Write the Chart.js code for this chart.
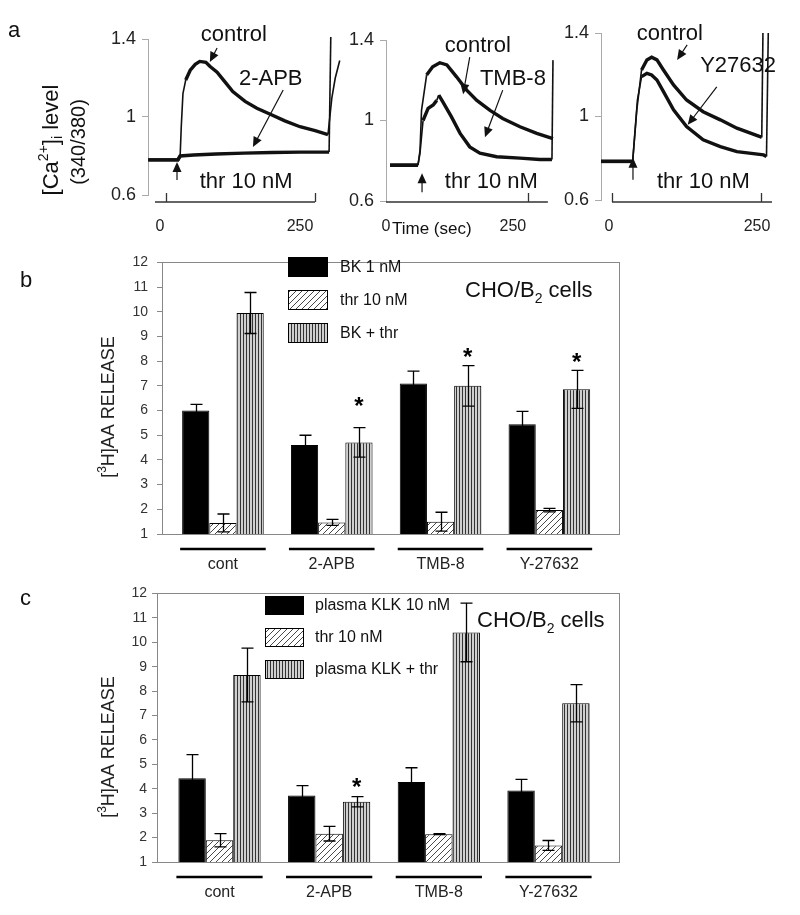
<!DOCTYPE html>
<html>
<head>
<meta charset="utf-8">
<script src="https://cdn.jsdelivr.net/npm/chart.js@4.4.1/dist/chart.umd.min.js"></script>
<style>
  html, body { margin: 0; padding: 0; background: #fff; }
  #fig { position: relative; width: 800px; height: 915px; background: #fff; overflow: hidden; }
  #fig canvas { position: absolute; }
</style>
</head>
<body>
<div id="fig">
  <canvas id="a1" width="350" height="245" style="left:0;top:0"></canvas>
  <canvas id="a2" width="260" height="245" style="left:300px;top:0"></canvas>
  <canvas id="a3" width="260" height="245" style="left:540px;top:0"></canvas>
  <canvas id="b" width="640" height="335" style="left:0;top:245px"></canvas>
  <canvas id="c" width="640" height="335" style="left:0;top:580px"></canvas>
</div>
<script>
const FONT = '"Liberation Sans", Arial, sans-serif';
Chart.defaults.font.family = FONT;
Chart.defaults.color = '#222';

// ---- panel a : [Ca2+]i traces, time (sec) vs 340/380 ratio ----
const caTicks = [0.6, 1, 1.4];
const timeTicks = [0, 250];

// thr 10 nM, control vs 2-APB
const ctrl1Time  = [-21, 32, 36, 38, 41, 46, 54, 63, 71, 82, 89, 102, 116, 130, 152, 173, 196, 223, 250, 277, 300, 307, 313, 321];
const ctrl1Ratio = [0.78, 0.78, 0.80, 0.95, 1.12, 1.19, 1.24, 1.27, 1.285, 1.28, 1.26, 1.23, 1.18, 1.13, 1.08, 1.045, 1.015, 0.98, 0.95, 0.93, 0.91, 1.10, 1.20, 1.29];
const apbTime  = [-21, 32, 36, 60, 100, 150, 200, 250, 300, 302, 305];
const apbRatio = [0.78, 0.78, 0.80, 0.805, 0.81, 0.815, 0.818, 0.82, 0.82, 0.82, 1.41];

// control vs TMB-8
const ctrl2Time  = [8, 63, 67, 70, 80, 92, 106, 120, 139, 159, 179, 205, 230, 264, 297, 329];
const ctrl2Ratio = [0.778, 0.778, 0.85, 1.05, 1.226, 1.267, 1.287, 1.276, 1.217, 1.151, 1.10, 1.05, 1.01, 0.969, 0.936, 0.91];
const tmbTime  = [8, 63, 67, 73, 83, 93, 100, 104, 112, 129, 146, 165, 185, 218, 264, 303, 327, 329];
const tmbRatio = [0.778, 0.778, 0.838, 1.0, 1.06, 1.077, 1.10, 1.126, 1.093, 1.018, 0.936, 0.869, 0.838, 0.82, 0.813, 0.806, 0.806, 1.30];

// control vs Y27632
const ctrl3Time  = [-13.5, 40, 47, 55, 64, 72, 81, 92, 109, 131, 159, 188, 216, 255, 258, 260];
const ctrl3Ratio = [0.785, 0.785, 1.032, 1.223, 1.271, 1.284, 1.271, 1.223, 1.151, 1.079, 1.023, 0.984, 0.944, 0.904, 0.90, 1.40];
const y276Time  = [-13.5, 40, 48, 55, 64, 72, 81, 92, 109, 131, 159, 188, 216, 261, 266, 269];
const y276Ratio = [0.785, 0.785, 1.079, 1.191, 1.207, 1.199, 1.175, 1.119, 1.032, 0.952, 0.888, 0.856, 0.832, 0.816, 0.808, 1.40];

// ---- panels b, c : [3H]AA release ----
const groups = ['cont', '2-APB', 'TMB-8', 'Y-27632'];
const releaseTicks = [1, 2, 3, 4, 5, 6, 7, 8, 9, 10, 11, 12];

const legendB = ['BK 1 nM', 'thr 10 nM', 'BK + thr'];
const bkMean    = [6.0, 4.6, 7.1, 5.45];
const bkErr     = [0.25, 0.4, 0.5, 0.52];
const thrMeanB  = [1.45, 1.47, 1.5, 1.97];
const thrErrB   = [0.36, 0.12, 0.38, 0.07];
const bkThrMean = [9.95, 4.71, 7.0, 6.86];
const bkThrErr  = [0.83, 0.6, 0.82, 0.77];
const starB     = [null, 6.35, 8.35, 8.15];

const legendC = ['plasma KLK 10 nM', 'thr 10 nM', 'plasma KLK + thr'];
const klkMean    = [4.43, 3.72, 4.28, 3.93];
const klkErr     = [0.97, 0.41, 0.58, 0.45];
const thrMeanC   = [1.89, 2.16, 2.14, 1.68];
const thrErrC    = [0.27, 0.3, 0.02, 0.2];
const klkThrMean = [8.66, 3.47, 10.4, 7.5];
const klkThrErr  = [1.1, 0.21, 1.2, 0.76];
const starC      = [null, 4.26, null, null];

/**
 * Draw a row of text pieces (for super/subscripts), optionally rotated.
 * parts: [{t, s (size factor), dy (shift in em)}]
 */
function drawRich(ctx, parts, x, y, size, opts) {
  opts = opts || {};
  ctx.save();
  ctx.translate(x, y);
  if (opts.rotate) ctx.rotate(-Math.PI / 2);
  ctx.textBaseline = opts.baseline || 'middle';
  ctx.textAlign = 'left';
  ctx.fillStyle = opts.color || '#111';
  let w = 0;
  parts.forEach(p => {
    ctx.font = Math.round(size * (p.s || 1)) + 'px ' + FONT;
    p.w = ctx.measureText(p.t).width;
    w += p.w;
  });
  let cx = opts.align === 'center' ? -w / 2 : 0;
  parts.forEach(p => {
    ctx.font = Math.round(size * (p.s || 1)) + 'px ' + FONT;
    ctx.fillText(p.t, cx, (p.dy || 0) * size);
    cx += p.w;
  });
  ctx.restore();
}

function drawArrow(ctx, x1, y1, x2, y2) {
  const a = Math.atan2(y2 - y1, x2 - x1);
  const len = 10, hw = 4.5;
  ctx.beginPath();
  ctx.moveTo(x1, y1);
  ctx.lineTo(x2 - Math.cos(a) * len * 0.8, y2 - Math.sin(a) * len * 0.8);
  ctx.stroke();
  ctx.beginPath();
  ctx.moveTo(x2, y2);
  ctx.lineTo(x2 - Math.cos(a) * len - Math.sin(a) * hw, y2 - Math.sin(a) * len + Math.cos(a) * hw);
  ctx.lineTo(x2 - Math.cos(a) * len + Math.sin(a) * hw, y2 - Math.sin(a) * len - Math.cos(a) * hw);
  ctx.closePath();
  ctx.fill();
}

const pts = (t, v) => t.map((x, i) => ({ x: x, y: v[i] }));

// noisy recordings read thick on flat stretches, thin on the fast jumps
const traceWidth = seg => {
  const dx = Math.abs(seg.p1.x - seg.p0.x), dy = Math.abs(seg.p1.y - seg.p0.y);
  return dy > dx * 2.5 ? 1.6 : 3.4;
};

// annotations for a trace panel: labels, arrows, thr bracket
const traceNotes = cfg => ({
  id: 'traceNotes',
  afterDraw(chart) {
    const { ctx, scales: { x, y } } = chart;
    ctx.save();
    ctx.fillStyle = '#111';
    ctx.strokeStyle = '#111';
    ctx.lineWidth = 1.2;
    ctx.textAlign = 'left';
    ctx.textBaseline = 'alphabetic';
    cfg.notes.forEach(n => {
      ctx.font = (n.size || 22) + 'px ' + FONT;
      ctx.fillText(n.text, x.getPixelForValue(n.t), y.getPixelForValue(n.v));
    });
    cfg.arrows.forEach(a => drawArrow(ctx,
      x.getPixelForValue(a[0]), y.getPixelForValue(a[1]),
      x.getPixelForValue(a[2]), y.getPixelForValue(a[3])));
    // thrombin bracket / time axis
    const br = cfg.bracket;
    ctx.strokeStyle = '#333';
    ctx.lineWidth = 1.3;
    ctx.beginPath();
    ctx.moveTo(x.getPixelForValue(br.from), br.y);
    ctx.lineTo(x.getPixelForValue(br.to), br.y);
    br.ticks.forEach(t => {
      const px = Math.round(x.getPixelForValue(t)) + 0.5;
      ctx.moveTo(px, br.y);
      ctx.lineTo(px, br.y - 9);
    });
    ctx.stroke();
    if (cfg.extra) cfg.extra(ctx, chart);
    ctx.restore();
  }
});

function traceChart(id, cfg) {
  return new Chart(document.getElementById(id), {
    type: 'line',
    data: {
      datasets: cfg.series.map(s => ({
        data: pts(s[0], s[1]),
        borderColor: '#111',
        borderWidth: 3.4,
        segment: { borderWidth: traceWidth },
        pointRadius: 0,
        tension: 0,
        clip: false
      }))
    },
    options: {
      responsive: false,
      animation: false,
      layout: { padding: { top: cfg.top, right: cfg.right, left: 0, bottom: 0 } },
      plugins: { legend: { display: false }, tooltip: { enabled: false } },
      scales: {
        x: {
          type: 'linear', min: cfg.xMin, max: cfg.xMax,
          afterFit: s => { s.height = cfg.xAxisH; },
          afterBuildTicks: s => { s.ticks = timeTicks.map(v => ({ value: v })); },
          grid: { display: false, drawTicks: false },
          border: { display: false },
          ticks: { padding: cfg.tickPad, font: { size: 16 }, color: '#222', maxRotation: 0, autoSkip: false }
        },
        y: {
          min: 0.6, max: 1.4,
          afterFit: s => { s.width = cfg.yAxisW; },
          afterBuildTicks: s => { s.ticks = caTicks.map(v => ({ value: v })); },
          grid: { drawOnChartArea: false, tickLength: 6, color: '#aaa' },
          border: { color: '#aaa' },
          ticks: { padding: 6, font: { size: 18 }, color: '#222', callback: v => String(v) }
        }
      }
    },
    plugins: [traceNotes(cfg)]
  });
}

traceChart('a1', {
  series: [[ctrl1Time, ctrl1Ratio], [apbTime, apbRatio]],
  xMin: -21.4, xMax: 330.4, top: 39, right: 5, xAxisH: 50, yAxisW: 148, tickPad: 22,
  notes: [
    { text: 'control', t: 73, v: 1.39 },
    { text: '2-APB', t: 141, v: 1.164 },
    { text: 'thr 10 nM', t: 71, v: 0.636 }
  ],
  arrows: [[102, 1.354, 89, 1.282], [220, 1.138, 166, 0.846], [30.4, 0.677, 30.4, 0.769]],
  bracket: { from: -8.9, to: 276.8, ticks: [10.7, 276.8], y: 202 },
  extra(ctx) {
    ctx.font = '22px ' + FONT;
    ctx.fillStyle = '#111';
    ctx.fillText('a', 8, 37);
    drawRich(ctx, [{ t: '[Ca' }, { t: '2+', s: 0.65, dy: -0.35 }, { t: ']' }, { t: 'i', s: 0.65, dy: 0.3 }, { t: ' level' }],
      52, 140, 22, { rotate: true, align: 'center' });
    drawRich(ctx, [{ t: '(340/380)' }], 79, 142, 20, { rotate: true, align: 'center' });
  }
});

traceChart('a2', {
  series: [[ctrl2Time, ctrl2Ratio], [tmbTime, tmbRatio]],
  xMin: 0, xMax: 333, top: 40, right: 5, xAxisH: 44, yAxisW: 86, tickPad: 16,
  notes: [
    { text: 'control', t: 116, v: 1.34 },
    { text: 'TMB-8', t: 185, v: 1.176 },
    { text: 'thr 10 nM', t: 116, v: 0.664 },
    { text: 'Time (sec)', t: 11.8, v: 0.435, size: 17 }
  ],
  arrows: [[165, 1.315, 152, 1.131], [230, 1.151, 195, 0.917], [71, 0.644, 71, 0.738]],
  bracket: { from: 0, to: 319, ticks: [279.5], y: 202 }
});

traceChart('a3', {
  series: [[ctrl3Time, ctrl3Ratio], [y276Time, y276Ratio]],
  xMin: -13.5, xMax: 275.3, top: 33, right: 28, xAxisH: 45, yAxisW: 61, tickPad: 17,
  notes: [
    { text: 'control', t: 47, v: 1.367 },
    { text: 'Y27632', t: 154, v: 1.213 },
    { text: 'thr 10 nM', t: 81, v: 0.658 }
  ],
  arrows: [[132, 1.343, 115, 1.271], [182, 1.142, 133, 0.96], [40.5, 0.697, 40.5, 0.802]],
  bracket: { from: 5.1, to: 275.3, ticks: [5.1, 256.8], y: 202 }
});

// ---- bar fills ----
function hatchFill() {
  const c = document.createElement('canvas');
  c.width = 6; c.height = 6;
  const g = c.getContext('2d');
  g.fillStyle = '#fff';
  g.fillRect(0, 0, 6, 6);
  g.strokeStyle = '#333';
  g.lineWidth = 0.9;
  g.beginPath();
  g.moveTo(-1, 7); g.lineTo(7, -1);
  g.moveTo(-1, 1); g.lineTo(1, -1);
  g.moveTo(5, 7); g.lineTo(7, 5);
  g.stroke();
  return g.createPattern(c, 'repeat');
}
function stripeFill() {
  const c = document.createElement('canvas');
  c.width = 3; c.height = 2;
  const g = c.getContext('2d');
  g.fillStyle = '#cfcfcf';
  g.fillRect(0, 0, 3, 2);
  g.fillStyle = '#333';
  g.fillRect(0, 0, 1, 2);
  return g.createPattern(c, 'repeat');
}
const fills = ['#000', hatchFill(), stripeFill()];

// error bars, frame, group underlines, legend, asterisks, titles
const releaseDecor = cfg => ({
  id: 'releaseDecor',
  afterDatasetsDraw(chart) {
    const { ctx, scales: { y } } = chart;
    ctx.save();
    ctx.strokeStyle = '#000';
    ctx.lineWidth = 1.3;
    chart.data.datasets.forEach((ds, i) => {
      chart.getDatasetMeta(i).data.forEach((bar, j) => {
        const m = ds.data[j].y, e = ds.err[j];
        const yt = y.getPixelForValue(m + e), yb = y.getPixelForValue(m - e);
        const x = Math.round(bar.x) + 0.5;
        ctx.beginPath();
        ctx.moveTo(x, yt); ctx.lineTo(x, yb);
        ctx.moveTo(x - 6, yt); ctx.lineTo(x + 6, yt);
        ctx.moveTo(x - 6, yb); ctx.lineTo(x + 6, yb);
        ctx.stroke();
      });
    });
    ctx.restore();
  },
  afterDraw(chart) {
    const { ctx, chartArea: a, scales: { y } } = chart;
    ctx.save();
    // frame
    ctx.strokeStyle = '#888';
    ctx.lineWidth = 1;
    ctx.strokeRect(Math.round(a.left) + 0.5, Math.round(a.top) + 0.5, Math.round(a.right - a.left), Math.round(a.bottom - a.top));
    // group underlines
    const first = chart.getDatasetMeta(0).data, last = chart.getDatasetMeta(2).data;
    ctx.strokeStyle = '#000';
    ctx.lineWidth = 2.5;
    groups.forEach((g, j) => {
      ctx.beginPath();
      ctx.moveTo(first[j].x - first[j].width / 2 - 2, a.bottom + 15);
      ctx.lineTo(last[j].x + last[j].width / 2 + 2, a.bottom + 15);
      ctx.stroke();
    });
    // asterisks over the combined bars
    ctx.fillStyle = '#000';
    ctx.font = 'bold 24px ' + FONT;
    ctx.textAlign = 'center';
    ctx.textBaseline = 'alphabetic';
    const m = ctx.measureText('*');
    const off = (m.actualBoundingBoxAscent - m.actualBoundingBoxDescent) / 2;
    cfg.stars.forEach((s, j) => {
      if (s == null) return;
      ctx.fillText('*', last[j].x, y.getPixelForValue(s) + off);
    });
    // legend
    const L = cfg.legend;
    ctx.textAlign = 'left';
    ctx.textBaseline = 'middle';
    ctx.font = '16px ' + FONT;
    chart.data.datasets.forEach((ds, i) => {
      const top = L.rows[i];
      ctx.fillStyle = ds.backgroundColor;
      ctx.fillRect(L.x, top, L.w, L.h);
      ctx.strokeStyle = '#000';
      ctx.lineWidth = 1;
      ctx.strokeRect(L.x + 0.5, top + 0.5, L.w, L.h);
      ctx.fillStyle = '#111';
      ctx.fillText(ds.label, L.textX, top + L.h / 2 + 1);
    });
    // cell label
    drawRich(ctx, [{ t: 'CHO/B' }, { t: '2', s: 0.65, dy: 0.27 }, { t: ' cells' }],
      cfg.cells[0], cfg.cells[1], 22, { baseline: 'alphabetic' });
    // y title
    drawRich(ctx, [{ t: '[' }, { t: '3', s: 0.65, dy: -0.35 }, { t: 'H]AA RELEASE' }],
      109, cfg.titleY, 18, { rotate: true, align: 'center', color: '#222' });
    // panel letter
    ctx.font = '22px ' + FONT;
    ctx.fillStyle = '#111';
    ctx.textBaseline = 'alphabetic';
    ctx.fillText(cfg.letter, 20, cfg.letterY);
    ctx.restore();
  }
});

function releaseChart(id, cfg) {
  return new Chart(document.getElementById(id), {
    type: 'bar',
    data: {
      datasets: cfg.series.map((s, i) => ({
        label: cfg.labels[i],
        data: s[0].map((v, j) => ({ x: j, y: v })),
        err: s[1],
        backgroundColor: fills[i],
        borderColor: '#000',
        borderWidth: 1,
        categoryPercentage: 0.75,
        barPercentage: 1
      }))
    },
    options: {
      responsive: false,
      animation: false,
      layout: { padding: { top: cfg.top, right: 21, left: 0, bottom: 0 } },
      plugins: { legend: { display: false }, tooltip: { enabled: false } },
      scales: {
        x: {
          type: 'linear', min: cfg.xMin, max: cfg.xMax, offset: false,
          afterFit: s => { s.height = cfg.xAxisH; },
          afterBuildTicks: s => { s.ticks = groups.map((g, i) => ({ value: i })); },
          grid: { display: false, drawTicks: false, offset: false },
          border: { display: false },
          ticks: { padding: 21, font: { size: 16 }, color: '#222', maxRotation: 0, autoSkip: false,
                   callback: v => groups[v] }
        },
        y: {
          min: 1, max: 12,
          afterFit: s => { s.width = cfg.yAxisW; },
          afterBuildTicks: s => { s.ticks = releaseTicks.map(v => ({ value: v })); },
          grid: { drawOnChartArea: false, tickLength: 5, color: '#888' },
          border: { display: false },
          ticks: { padding: cfg.tickPad, font: { size: 14 }, color: '#333' }
        }
      }
    },
    plugins: [releaseDecor(cfg)]
  });
}

releaseChart('b', {
  series: [[bkMean, bkErr], [thrMeanB, thrErrB], [bkThrMean, bkThrErr]],
  labels: legendB, stars: starB,
  xMin: -0.56, xMax: 3.64, top: 9, xAxisH: 46, yAxisW: 162, tickPad: 9,
  legend: { x: 288, w: 39, h: 19, rows: [12, 45, 78], textX: 340 },
  cells: [465, 52], titleY: 162, letter: 'b', letterY: 42
});

releaseChart('c', {
  series: [[klkMean, klkErr], [thrMeanC, thrErrC], [klkThrMean, klkThrErr]],
  labels: legendC, stars: starC,
  xMin: -0.57, xMax: 3.643, top: 12, xAxisH: 53, yAxisW: 157, tickPad: 5,
  legend: { x: 265, w: 38, h: 18, rows: [16, 48, 80], textX: 315 },
  cells: [477, 47], titleY: 167, letter: 'c', letterY: 25
});
</script>
</body>
</html>
